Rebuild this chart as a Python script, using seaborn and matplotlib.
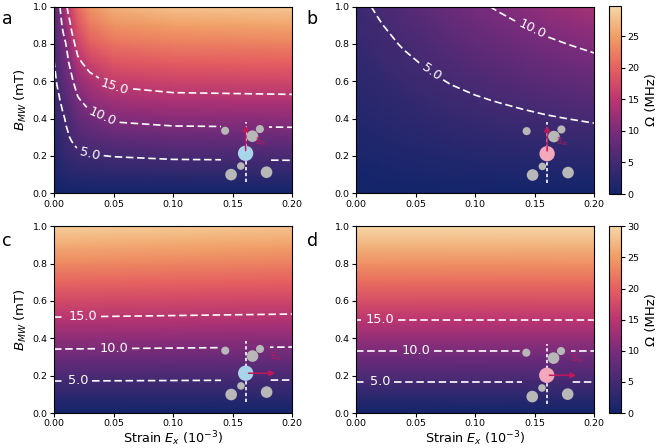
import numpy as np
import matplotlib
matplotlib.use("Agg")
import matplotlib.pyplot as plt
from matplotlib.patches import Rectangle
from matplotlib.colors import Normalize
from matplotlib.cm import ScalarMappable
import seaborn as sns

# grid axes
b_mw = [0.0, 0.1, 0.2, 0.3, 0.4, 0.5, 0.6, 0.7, 0.8, 0.9, 1.0]
strain_a = [0.0, 0.0025, 0.005, 0.0075, 0.01, 0.015, 0.02, 0.03, 0.05, 0.1, 0.2]
strain_b = [0.0, 0.02, 0.04, 0.06, 0.08, 0.1, 0.12, 0.14, 0.16, 0.18, 0.2]
strain_cd = [0.0, 0.2]

# Rabi frequency (MHz), rows follow b_mw
rabi_a = [
    [0, 0, 0, 0, 0, 0, 0, 0, 0, 0, 0],
    [0.7, 1.0, 1.3, 1.5, 1.7, 2.0, 2.2, 2.4, 2.6, 2.78, 2.83],
    [1.4, 2.0, 2.6, 3.0, 3.4, 4.0, 4.35, 4.75, 5.1, 5.5, 5.66],
    [2.1, 2.6, 3.3, 3.9, 4.5, 5.3, 6.2, 6.9, 7.7, 8.3, 8.5],
    [2.8, 3.4, 4.0, 4.6, 5.25, 6.4, 7.9, 8.9, 10.5, 11.1, 11.3],
    [3.5, 4.25, 5.0, 5.8, 6.6, 8.2, 9.6, 11.5, 13.0, 13.9, 14.15],
    [4.2, 5.2, 6.0, 6.9, 7.8, 9.5, 11.8, 13.6, 15.9, 16.7, 17.0],
    [4.9, 6.0, 7.0, 8.0, 8.9, 11.2, 14.2, 16.5, 18.7, 19.5, 19.8],
    [5.6, 6.9, 8.0, 9.2, 10.0, 13.6, 16.5, 19.5, 21.4, 22.3, 22.6],
    [6.3, 7.8, 9.2, 10.4, 11.9, 15.8, 18.6, 21.8, 24.0, 25.1, 25.6],
    [7.0, 8.5, 10.0, 12.0, 14.5, 17.6, 20.8, 24.0, 26.6, 28.0, 28.6],
]
rabi_b = [
    [0, 0, 0, 0, 0, 0, 0, 0, 0, 0, 0],
    [0.43, 0.54, 0.65, 0.75, 0.86, 0.95, 1.03, 1.11, 1.19, 1.26, 1.33],
    [0.86, 1.08, 1.30, 1.50, 1.72, 1.90, 2.06, 2.22, 2.38, 2.52, 2.66],
    [1.29, 1.62, 1.95, 2.25, 2.58, 2.85, 3.09, 3.33, 3.57, 3.78, 3.99],
    [1.72, 2.16, 2.60, 3.00, 3.44, 3.80, 4.12, 4.44, 4.76, 5.04, 5.32],
    [2.15, 2.70, 3.25, 3.75, 4.30, 4.75, 5.15, 5.55, 5.95, 6.30, 6.65],
    [2.58, 3.24, 3.90, 4.50, 5.16, 5.70, 6.18, 6.66, 7.14, 7.56, 7.98],
    [3.01, 3.78, 4.55, 5.25, 6.02, 6.65, 7.21, 7.77, 8.33, 8.82, 9.31],
    [3.44, 4.32, 5.20, 6.00, 6.88, 7.60, 8.24, 8.88, 9.52, 10.08, 10.64],
    [3.87, 4.86, 5.85, 6.75, 7.74, 8.55, 9.27, 9.99, 10.71, 11.34, 11.97],
    [4.30, 5.40, 6.50, 7.50, 8.60, 9.50, 10.30, 11.10, 11.90, 12.60, 13.30],
]
rabi_c = [
    [0, 0], [2.92, 2.83], [5.84, 5.66], [8.76, 8.49], [11.68, 11.32],
    [14.6, 14.15], [17.52, 16.98], [20.44, 19.81], [23.36, 22.64],
    [26.28, 25.47], [29.2, 28.3],
]
rabi_d = [
    [0, 0], [3, 3], [6, 6], [9, 9], [12, 12], [15, 15],
    [18, 18], [21, 21], [24, 24], [27, 27], [30, 30],
]

contour_levels = [5, 10, 15]
cbar_max = [29.8, 30.0]
x_ticks = [0.0, 0.05, 0.10, 0.15, 0.20]
y_ticks = [0.0, 0.2, 0.4, 0.6, 0.8, 1.0]

# NV sketch: atom offsets from the centre site, in data units
atom_dx = [-0.0172, 0.0057, 0.012, -0.004, -0.0122, 0.0176]
atom_dy = [0.121, 0.092, 0.130, -0.068, -0.114, -0.101]
atom_s = [34, 70, 34, 30, 70, 70]
site_x = [0.161, 0.1606, 0.1611, 0.1603]
site_y = [0.214, 0.212, 0.213, 0.202]
site_color = ["#a9d5eb", "#f3a8bb", "#a9d5eb", "#f3a8bb"]

cmap = sns.blend_palette(["#13256a", "#432a72", "#7a2b7c", "#bb3571",
                          "#e65f60", "#f09c62", "#f6d6a6"], as_cmap=True)
red = "#c2185b"

fig = plt.figure(figsize=(6.65, 4.48), dpi=100)
ax_w, ax_h = 238 / 665, 186.7 / 448
lefts = [54 / 665, 356 / 665]
bottoms = [(448 - 193.3) / 448, (448 - 413) / 448]

panels = [
    ("a", strain_a, rabi_a, 0, 0, [(0.051, 0.563), (0.040, 0.402), (0.030, 0.214)], "up"),
    ("b", strain_b, rabi_b, 0, 1, [(0.148, 0.884), (0.0635, 0.652)], "up"),
    ("c", strain_cd, rabi_c, 1, 0, [(0.024, 0.523), (0.050, 0.353), (0.020, 0.175)], "right"),
    ("d", strain_cd, rabi_d, 1, 1, [(0.020, 0.50), (0.050, 0.333), (0.020, 0.167)], "right"),
]

for i, (letter, strain, rabi, row, col, lab_pos, arrow_dir) in enumerate(panels):
    ax = fig.add_axes([lefts[col], bottoms[row], ax_w, ax_h])
    norm = Normalize(0, cbar_max[row])
    X, Y = np.meshgrid(strain, b_mw)
    Z = np.array(rabi)
    ax.pcolormesh(X, Y, Z, shading="gouraud", cmap=cmap, norm=norm)
    cs = ax.contour(X, Y, Z, levels=contour_levels, colors="white", linewidths=1.2)
    ax.clabel(cs, fmt="%.1f", fontsize=9.3, inline=True, inline_spacing=4, manual=lab_pos)
    cs.set_linestyle((0, (4.5, 2.2)))

    cx, cy = site_x[i], site_y[i]
    # patch of the map over the sketch hides the contour lines there
    box = Rectangle((cx - 0.021, cy - 0.17), 0.041, 0.345, transform=ax.transData)
    cover = ax.pcolormesh(X, Y, Z, shading="gouraud", cmap=cmap, norm=norm, zorder=3)
    cover.set_clip_path(box)

    ax.plot([cx, cx], [cy - 0.155, cy + 0.17], color="white", lw=1.2,
            ls=(0, (2, 1.5)), zorder=4)
    ax.scatter(cx + np.array(atom_dx), cy + np.array(atom_dy), s=atom_s,
               color="#b8b8b8", edgecolors="none", zorder=5)
    ax.scatter([cx], [cy], s=122, color=site_color[i], edgecolors="none", zorder=5)
    if arrow_dir == "up":
        tip = (cx, cy + 0.165)
        txt = (cx + 0.0075, cy + 0.03)
    else:
        tip = (cx + 0.027, cy)
        txt = (cx + 0.02, cy + 0.055)
    ax.annotate("", xy=tip, xytext=(cx, cy),
                arrowprops=dict(arrowstyle="-|>", color=red, lw=1.1, mutation_scale=8),
                zorder=6)
    ax.text(txt[0], txt[1], r"$\mathrm{B_{dc}}$", color=red, alpha=0.8, fontsize=5.5,
            family="DejaVu Serif", va="bottom", ha="left", zorder=6)

    ax.set_xlim(0, 0.2)
    ax.set_ylim(0, 1.0)
    ax.set_xticks(x_ticks)
    ax.set_xticklabels([f"{t:.2f}" for t in x_ticks])
    ax.set_yticks(y_ticks)
    ax.set_yticklabels([f"{t:.1f}" for t in y_ticks])
    ax.tick_params(labelsize=6.8, length=3, width=0.8, pad=1.5)
    if col == 0:
        ax.set_ylabel(r"$B_{MW}$ (mT)", fontsize=9.5, labelpad=3)
    if row == 1:
        ax.set_xlabel(r"Strain $E_x$ ($10^{-3}$)", fontsize=9.2)
        ax.xaxis.set_label_coords(0.5, -0.088)

    fx = 0.003 if col == 0 else 0.461
    fy = 0.946 if row == 0 else 0.451
    fig.text(fx, fy, letter, fontsize=12.5, va="baseline", ha="left")

cbar_boxes = [[609 / 665, (448 - 194) / 448, 11.5 / 665, 188 / 448],
              [609 / 665, (448 - 413) / 448, 11.5 / 665, 186.7 / 448]]
cbar_ticks = [[0, 5, 10, 15, 20, 25], [0, 5, 10, 15, 20, 25, 30]]
for row in range(2):
    cax = fig.add_axes(cbar_boxes[row])
    sm = ScalarMappable(norm=Normalize(0, cbar_max[row]), cmap=cmap)
    cb = fig.colorbar(sm, cax=cax, ticks=cbar_ticks[row])
    cb.ax.tick_params(labelsize=6.8, length=3, width=0.8, pad=2)
    cb.outline.set_linewidth(0.8)
    cb.set_label("Ω (MHz)", fontsize=9.5, labelpad=4)

fig.savefig("out.png", dpi=100)
